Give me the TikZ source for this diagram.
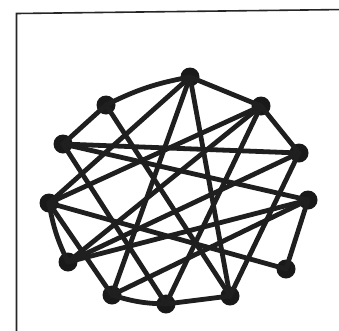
\documentclass[tikz,border=0pt]{standalone}
\begin{document}
\begin{tikzpicture}[x=1pt,y=-1pt,
  vtx/.style={circle,fill=black!90,inner sep=0pt,minimum size=19pt},
  edge/.style={line width=4.8pt,black!88,line cap=round}]
\useasboundingbox (0,0) rectangle (339,330);
\fill[white] (0,0) rectangle (339,330);
% frame
\draw[line width=1.6pt,black!85] (16.5,340) -- (16.5,13.5) -- (345,9.5);
% vertices
\node[vtx] (A) at (190,77) {};
\node[vtx] (B) at (106,105) {};
\node[vtx] (C) at (261,106) {};
\node[vtx] (D) at (63,144) {};
\node[vtx] (E) at (299,153) {};
\node[vtx] (F) at (49,203) {};
\node[vtx] (G) at (308,200) {};
\node[vtx] (H) at (68,262) {};
\node[vtx] (I) at (286,269) {};
\node[vtx] (J) at (112,295) {};
\node[vtx] (K) at (166,304) {};
\node[vtx] (L) at (230,296) {};
% edges
\draw[edge] (A.center) to[bend right=8] (B.center);
\draw[edge] (A.center) -- (C.center);
\draw[edge] (A.center) -- (F.center);
\draw[edge] (A.center) -- (J.center);
\draw[edge] (A.center) -- (L.center);
\draw[edge] (B.center) -- (D.center);
\draw[edge] (B.center) -- (L.center);
\draw[edge] (C.center) -- (E.center);
\draw[edge] (C.center) -- (F.center);
\draw[edge] (C.center) -- (K.center);
\draw[edge] (C.center) -- (H.center);
\draw[edge] (D.center) -- (E.center);
\draw[edge] (D.center) -- (G.center);
\draw[edge] (D.center) -- (K.center);
\draw[edge] (E.center) -- (H.center);
\draw[edge] (E.center) -- (L.center);
\draw[edge] (F.center) to[bend right=8] (H.center);
\draw[edge] (F.center) -- (J.center);
\draw[edge] (F.center) -- (I.center);
\draw[edge] (G.center) -- (I.center);
\draw[edge] (G.center) -- (J.center);
\draw[edge] (G.center) -- (H.center);
\draw[edge] (J.center) to[bend right=8] (K.center);
\draw[edge] (K.center) -- (L.center);
\end{tikzpicture}
\end{document}
